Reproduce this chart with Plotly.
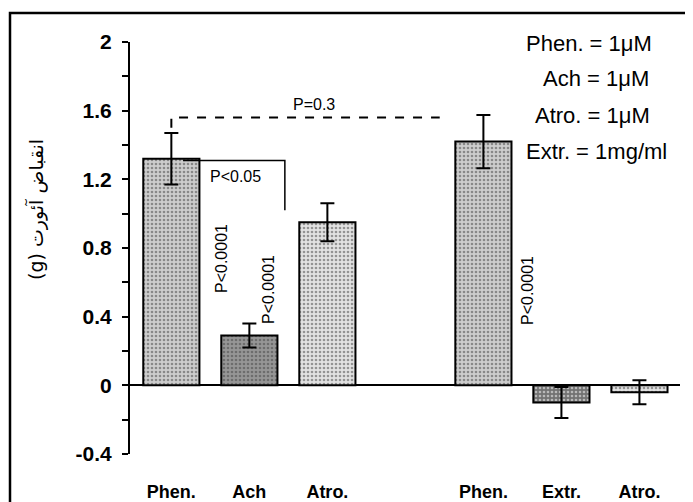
import plotly.graph_objects as go

# ---- data ----
categories = ["Phen.", "Ach", "Atro.", "Phen.", "Extr.", "Atro."]
positions = [0, 1, 2, 4, 5, 6]
values = [1.32, 0.29, 0.95, 1.42, -0.10, -0.04]
errors = [0.15, 0.07, 0.11, 0.155, 0.09, 0.07]
y_ticks = [2, 1.6, 1.2, 0.8, 0.4, 0, -0.4]
y_ticktext = ["2", "1.6", "1.2", "0.8", "0.4", "0", "-0.4"]
legend_lines = ["Phen. = 1\u03bcM", "Ach = 1\u03bcM", "Atro. = 1\u03bcM", "Extr. = 1mg/ml"]
y_title = "(g) انقباض آئورت"

# styling
fill_bg = ["#cdcdcd", "#969696", "#e2e2e2", "#cdcdcd", "#727272", "#e2e2e2"]
fill_fg = ["#a0a0a0", "#747474", "#c0c0c0", "#a0a0a0", "#505050", "#c0c0c0"]
legend_cx = [589, 596, 592, 596]

OFF = 8  # browser body margin
W, H = 693 - OFF, 502 - OFF
L, R, T, B = 130 - OFF, 13, 42 - OFF, 48
pw, ph = W - L - R, H - T - B

def px(x):
    return (x - OFF - L) / pw

def py(y):
    return (H - B - (y - OFF)) / ph

ARIAL = "Arial, Liberation Sans"

fig = go.Figure()
fig.add_trace(go.Bar(
    x=positions, y=values, width=0.72,
    marker=dict(color=fill_bg, line=dict(color="black", width=2),
                pattern=dict(shape=".", fgcolor=fill_fg, bgcolor=fill_bg,
                             size=4, solidity=0.35)),
    error_y=dict(type="data", array=errors, color="black", thickness=2, width=7),
    showlegend=False, hoverinfo="skip",
))

def txt(x, y, t, size, angle=0, family=ARIAL):
    return dict(x=px(x), xref="paper", y=py(y), yref="paper", text=t, showarrow=False,
                xanchor="center", yanchor="middle", textangle=angle,
                font=dict(family=family, size=size, color="black"))

anns = []
for i, t in enumerate(legend_lines):
    anns.append(txt(legend_cx[i], 43 + i * 36, t, 22))

anns += [
    txt(314, 104, "P=0.3", 16),
    txt(235, 176, "P<0.05", 16),
    txt(221, 259, "P<0.0001", 16, -90),
    txt(268, 290, "P<0.0001", 16, -90),
    txt(527, 291, "P<0.0001", 16, -90),
    txt(36, 210, y_title, 19, -90, "DejaVu Sans, Noto Sans"),
]

shapes = [
    # dashed comparison line
    dict(type="path", xref="x", yref="y",
         path="M 0,1.50 L 0,1.56 L 3.44,1.56",
         line=dict(color="black", width=2, dash="dash")),
    # solid bracket
    dict(type="path", xref="x", yref="y",
         path="M 0.15,1.31 L 1.455,1.31 L 1.455,1.02",
         line=dict(color="black", width=1.5)),
    # outer frame
    dict(type="rect", xref="paper", yref="paper", x0=px(10), y0=py(540), x1=px(740), y1=py(13),
         line=dict(color="black", width=2.5)),
]

fig.update_layout(
    width=W, height=H,
    margin=dict(l=L, r=R, t=T, b=B, autoexpand=False),
    paper_bgcolor="white", plot_bgcolor="white",
    font=dict(family=ARIAL, color="black"),
    annotations=anns, shapes=shapes,
)
fig.update_xaxes(range=[-0.53, 6.52], tickvals=positions, ticktext=categories,
                 showgrid=False, zeroline=False, showline=False, ticks="",
                 ticklabelstandoff=25,
                 tickfont=dict(family=ARIAL, size=18, color="black", weight="bold"))
fig.update_yaxes(range=[-0.4, 2], tickvals=y_ticks, ticktext=y_ticktext,
                 ticks="outside", ticklen=6, tickwidth=2, tickcolor="black",
                 showline=True, linecolor="black", linewidth=2,
                 showgrid=False, zeroline=True, zerolinecolor="black", zerolinewidth=2,
                 minor=dict(dtick=0.2, ticks="outside", ticklen=6, tickwidth=2, tickcolor="black"),
                 tickfont=dict(family=ARIAL, size=21, color="black", weight="bold"),
                 ticklabelstandoff=6)

fig.write_html("out.html")
